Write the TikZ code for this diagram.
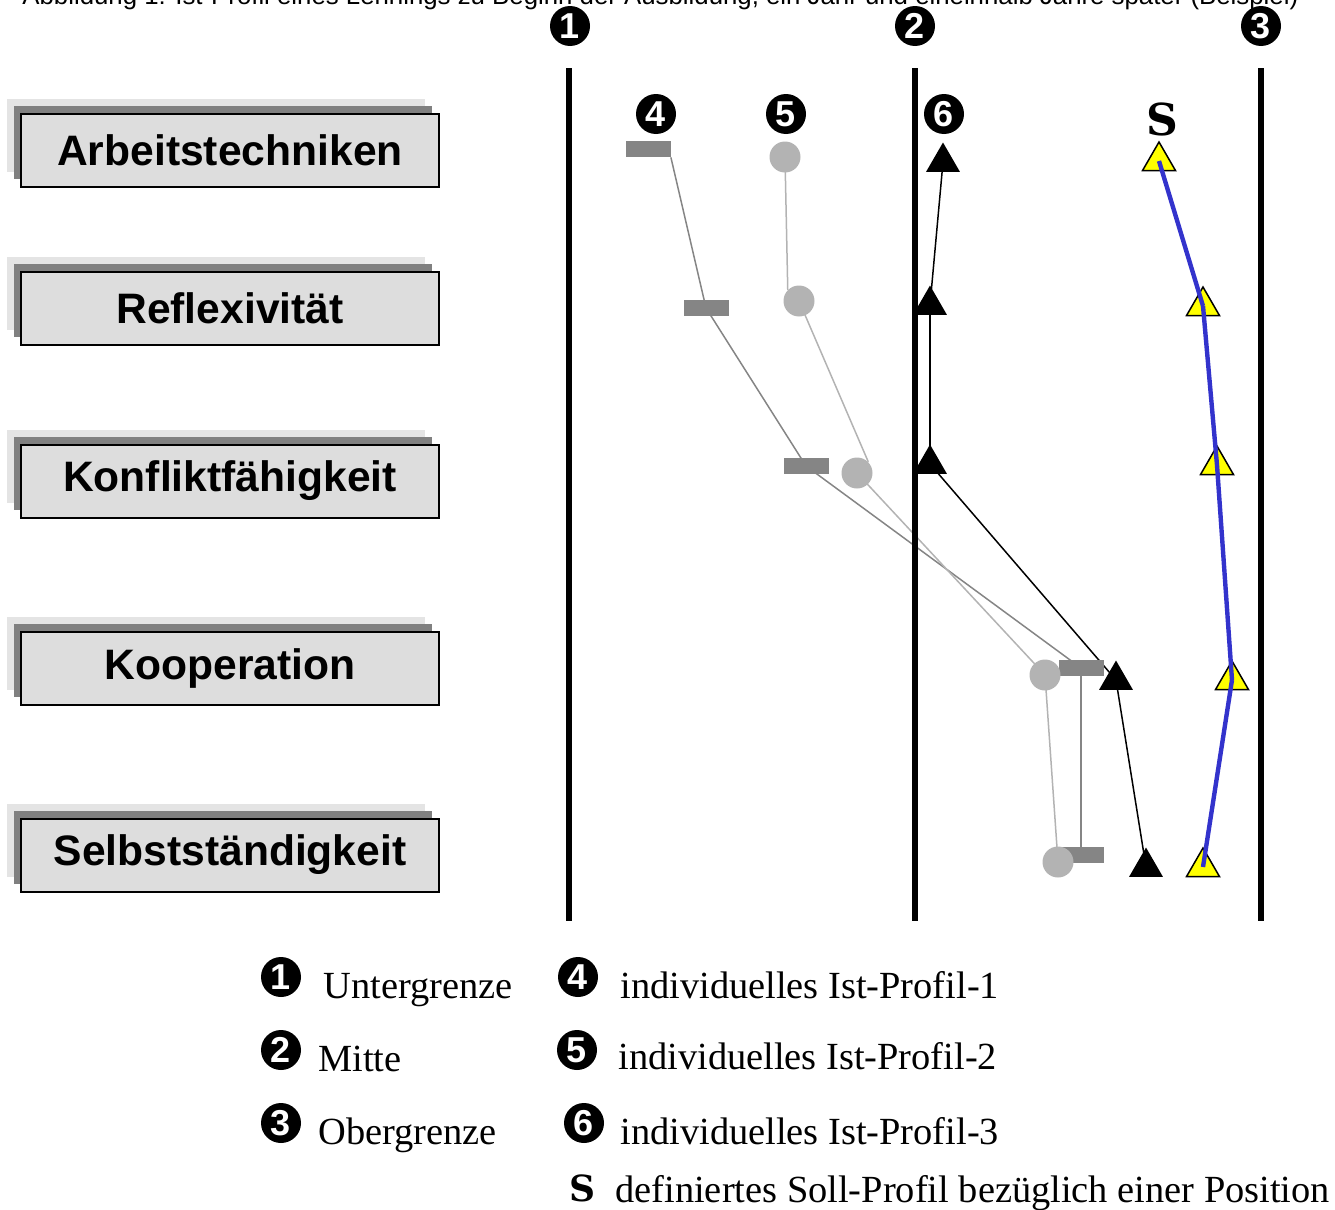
\documentclass[tikz,border=0pt]{standalone}
\usepackage{fontspec}
\setmainfont{Liberation Serif}
\setsansfont{Liberation Sans}
\newfontfamily\sollfont{DejaVu Serif}
\usetikzlibrary{shapes.geometric,backgrounds}

\definecolor{boxfill}{HTML}{DDDDDD}
\definecolor{shdark}{HTML}{808080}
\definecolor{shlight}{HTML}{E4E4E4}
\definecolor{rectgray}{HTML}{858585}
\definecolor{circgray}{HTML}{B3B3B3}
\definecolor{solblue}{HTML}{3333CC}
\definecolor{solyellow}{HTML}{FFFF00}

\begin{document}
\begin{tikzpicture}[x=0.5pt,y=-0.5pt,
  catbox/.style={draw=black, line width=1pt, fill=boxfill,
    minimum width=209pt, minimum height=36.5pt, inner sep=0pt,
    font=\sffamily\bfseries\fontsize{21.3}{24}\selectfont,
    preaction={fill=shlight, draw=none, transform canvas={shift={(-7pt,7.5pt)}}},
    preaction={fill=shdark, draw=none, transform canvas={shift={(-3.5pt,4pt)}}}},
  numcirc/.style={circle, fill=black, text=white, minimum size=20pt, inner sep=0pt,
    font=\sffamily\bfseries\fontsize{18}{18}\selectfont},
  axisline/.style={line width=3pt, black},
  markrect/.style={rectangle, fill=rectgray, minimum width=22.5pt, minimum height=8pt, inner sep=0pt},
  markcirc/.style={circle, fill=circgray, minimum size=15.5pt, inner sep=0pt},
  marktri/.style={regular polygon, regular polygon sides=3, fill=black, minimum size=19.5pt, inner sep=0pt},
  marksoll/.style={regular polygon, regular polygon sides=3, fill=solyellow, draw=black, line width=0.75pt, minimum size=19pt, inner sep=0pt},
  linerect/.style={draw=rectgray, line width=0.75pt},
  linecirc/.style={draw=circgray, line width=0.75pt},
  linetri/.style={draw=black, line width=0.75pt},
  linesoll/.style={draw=solblue, line width=2.2pt},
  legtext/.style={anchor=base west, inner sep=0pt, font=\fontsize{19.2}{22}\selectfont},
  bigS/.style={inner sep=0pt, font=\sollfont\bfseries\fontsize{22}{22}\selectfont},
  smallS/.style={inner sep=0pt, font=\sollfont\bfseries\fontsize{18}{18}\selectfont}
]
\useasboundingbox (0,0) rectangle (1335,1210);

% caption (cut off at the top, as in the original)
\node[anchor=base west, inner sep=0pt, font=\sffamily\fontsize{12.9}{14}\selectfont] (caption) at (22,4)
  {Abbildung 1: Ist-Profil eines Lehrlings zu Beginn der Ausbildung, ein Jahr und eineinhalb Jahre später (Beispiel)};

% category boxes
\node[catbox] (k1) at (230,150) {Arbeitstechniken};
\node[catbox] (k2) at (230,308) {Reflexivität};
\node[catbox] (k3) at (230,481) {Konfliktfähigkeit};
\node[catbox] (k4) at (230,668) {Kooperation};
\node[catbox] (k5) at (230,855) {Selbstständigkeit};

% axis numbers
\node[numcirc] (n1) at (570,26) {1};
\node[numcirc] (n2) at (915,26) {2};
\node[numcirc] (n3) at (1261,26) {3};

% profile labels
\node[numcirc] (p4) at (656,114) {4};
\node[numcirc] (p5) at (786,114) {5};
\node[numcirc] (p6) at (944,114) {6};
\node[bigS] (pS) at (1162,119) {S};

% profile 4
\node[markrect] (r1) at (648,149) {};
\node[markrect] (r2) at (706,308) {};
\node[markrect] (r3) at (806,466) {};
\node[markrect] (r4) at (1081,668) {};
\node[markrect] (r5) at (1081,855) {};

% profile 5
\node[markcirc] (c1) at (785,157) {};
\node[markcirc] (c2) at (799,301) {};
\node[markcirc] (c3) at (857,473) {};
\node[markcirc] (c4) at (1045,675) {};
\node[markcirc] (c5) at (1058,862) {};

% profile 6
\node[marktri] (t1) at (943,162) {};
\node[marktri] (t2) at (930,305) {};
\node[marktri] (t3) at (930,464) {};
\node[marktri] (t4) at (1116,680) {};
\node[marktri] (t5) at (1146,867) {};

% Soll profile
\node[marksoll] (s1) at (1159,161) {};
\node[marksoll] (s2) at (1203,306) {};
\node[marksoll] (s3) at (1217,465) {};
\node[marksoll] (s4) at (1232,680) {};
\node[marksoll] (s5) at (1203,867) {};

\begin{scope}[on background layer]
  \draw[linerect] (r1.south east) -- (r2.center);
  \draw[linerect] (r2.center) -- (r3.center);
  \draw[linerect] (r3.center) -- (r4.center);
  \draw[linerect] (r4.center) -- (r5.center);
  \draw[linecirc] (c1.center) -- (c2.north west);
  \draw[linecirc] (c2.center) -- (c3.north east);
  \draw[linecirc] (c3.center) -- (c4.center);
  \draw[linecirc] (c4.center) -- (c5.center);
  \draw[linetri] (t1.center) -- (t2.center);
  \draw[linetri] (t2.center) -- (t3.center);
  \draw[linetri] (t3.center) -- (t4.center);
  \draw[linetri] (t4.center) -- (t5.center);
\end{scope}

\draw[linesoll] (s1.center) -- (s2.center);
\draw[linesoll] (s2.center) -- (s3.center);
\draw[linesoll] (s3.center) -- (s4.center);
\draw[linesoll] (s4.center) -- (s5.center);

% axes
\coordinate (a1t) at (569,68);  \coordinate (a1b) at (569,921);
\coordinate (a2t) at (915,68);  \coordinate (a2b) at (915,921);
\coordinate (a3t) at (1261,68); \coordinate (a3b) at (1261,921);
\draw[axisline] (a1t) -- (a1b);
\draw[axisline] (a2t) -- (a2b);
\draw[axisline] (a3t) -- (a3b);

% legend
\node[numcirc] (l1) at (281,977) {1};
\node[legtext] (l1t) at (323,998) {Untergrenze};
\node[numcirc] (l2) at (281,1050) {2};
\node[legtext] (l2t) at (318,1071) {Mitte};
\node[numcirc] (l3) at (281,1123) {3};
\node[legtext] (l3t) at (318,1144) {Obergrenze};
\node[numcirc] (l4) at (578,977) {4};
\node[legtext] (l4t) at (620,998) {individuelles Ist-Profil-1};
\node[numcirc] (l5) at (577,1050) {5};
\node[legtext] (l5t) at (618,1069) {individuelles Ist-Profil-2};
\node[numcirc] (l6) at (584,1123) {6};
\node[legtext] (l6t) at (620,1144) {individuelles Ist-Profil-3};
\node[smallS] (lS) at (582,1188) {S};
\node[legtext] (lSt) at (615,1202) {definiertes Soll-Profil bezüglich einer Position};
\end{tikzpicture}
\end{document}
